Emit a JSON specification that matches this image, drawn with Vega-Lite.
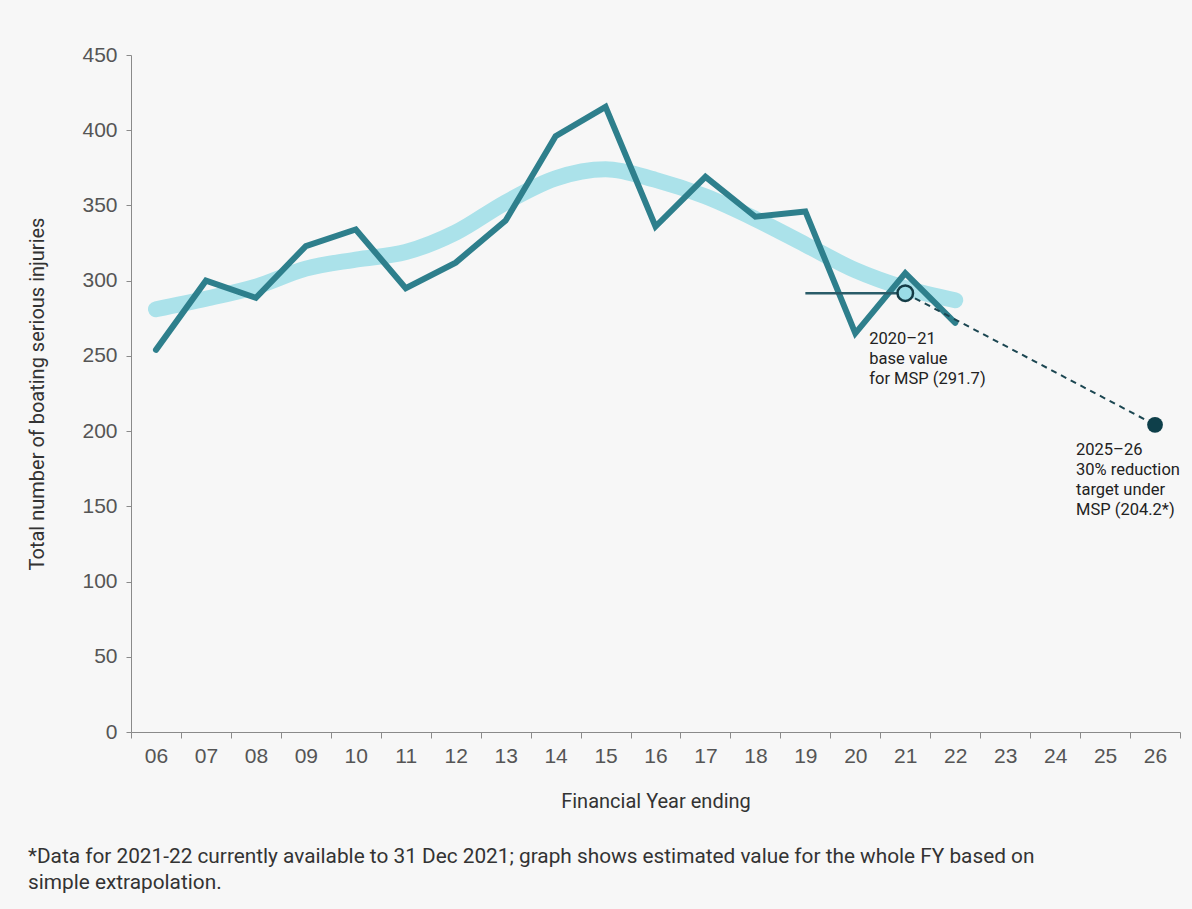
{
  "$schema": "https://vega.github.io/schema/vega-lite/v6.json",
  "autosize": "none",
  "width": 1049,
  "height": 677,
  "padding": {"left": 131, "top": 55, "right": 12, "bottom": 177},
  "background": "#f7f7f7",
  "config": {
    "view": {"stroke": null},
    "font": "Roboto"
  },
  "title": {
    "text": ["*Data for 2021-22 currently available to 31 Dec 2021; graph shows estimated  value for the whole FY based on", "simple extrapolation."],
    "orient": "bottom",
    "anchor": "start",
    "frame": "bounds",
    "font": "Roboto",
    "fontSize": 20.8,
    "fontWeight": "normal",
    "color": "#333333",
    "lineHeight": 26,
    "offset": 36
  },
  "encoding": {
    "x": {
      "field": "fy",
      "type": "ordinal",
      "scale": {"type": "band", "domain": ["06","07","08","09","10","11","12","13","14","15","16","17","18","19","20","21","22","23","24","25","26"], "paddingInner": 0, "paddingOuter": 0},
      "axis": {
        "title": "Financial Year ending",
        "labelAngle": 0,
        "tickBand": "extent",
        "tickSize": 6,
        "tickColor": "#8a8a8a",
        "domainColor": "#8a8a8a",
        "labelFont": "Liberation Sans",
        "labelFontSize": 21,
        "labelColor": "#555555",
        "labelPadding": 7,
        "titleFont": "Roboto",
        "titleFontSize": 20,
        "titleFontWeight": "normal",
        "titleColor": "#333333",
        "titlePadding": 25
      }
    },
    "y": {
      "field": "value",
      "type": "quantitative",
      "scale": {"domain": [0, 450], "nice": false},
      "axis": {
        "title": "Total number of boating serious injuries",
        "values": [0,50,100,150,200,250,300,350,400,450],
        "grid": false,
        "tickSize": 5,
        "tickColor": "#8a8a8a",
        "domainColor": "#8a8a8a",
        "labelFont": "Liberation Sans",
        "labelFontSize": 21,
        "labelColor": "#555555",
        "labelPadding": 9,
        "titleFont": "Roboto",
        "titleFontSize": 20,
        "titleFontWeight": "normal",
        "titleColor": "#333333",
        "titlePadding": 34
      }
    }
  },
  "layer": [
    {
      "data": {"values": [
        {"fy": "06", "value": 281},
        {"fy": "07", "value": 288},
        {"fy": "08", "value": 296},
        {"fy": "09", "value": 308},
        {"fy": "10", "value": 314},
        {"fy": "11", "value": 319},
        {"fy": "12", "value": 332},
        {"fy": "13", "value": 352},
        {"fy": "14", "value": 368},
        {"fy": "15", "value": 374},
        {"fy": "16", "value": 367},
        {"fy": "17", "value": 356},
        {"fy": "18", "value": 341},
        {"fy": "19", "value": 324},
        {"fy": "20", "value": 307},
        {"fy": "21", "value": 295},
        {"fy": "22", "value": 287}
      ]},
      "mark": {"type": "line", "interpolate": "monotone", "color": "#abe2ea", "strokeWidth": 16, "strokeCap": "round"}
    },
    {
      "data": {"values": [
        {"fy": "06", "value": 254},
        {"fy": "07", "value": 300},
        {"fy": "08", "value": 288.6},
        {"fy": "09", "value": 323},
        {"fy": "10", "value": 334},
        {"fy": "11", "value": 295},
        {"fy": "12", "value": 312},
        {"fy": "13", "value": 340},
        {"fy": "14", "value": 396},
        {"fy": "15", "value": 415.5},
        {"fy": "16", "value": 336},
        {"fy": "17", "value": 369},
        {"fy": "18", "value": 342.5},
        {"fy": "19", "value": 346},
        {"fy": "20", "value": 265},
        {"fy": "21", "value": 305},
        {"fy": "22", "value": 272}
      ]},
      "mark": {"type": "line", "color": "#2e7f8c", "strokeWidth": 6, "strokeCap": "round", "strokeJoin": "miter"}
    },
    {
      "data": {"values": [
        {"fy": "19", "value": 291.7},
        {"fy": "21", "value": 291.7}
      ]},
      "mark": {"type": "line", "color": "#2a5c69", "strokeWidth": 2.5}
    },
    {
      "data": {"values": [
        {"fy": "21", "value": 291.7},
        {"fy": "26", "value": 204.2}
      ]},
      "mark": {"type": "line", "color": "#1b4651", "strokeWidth": 2, "strokeDash": [6, 5]}
    },
    {
      "data": {"values": [
        {"fy": "21", "value": 291.7}
      ]},
      "mark": {"type": "point", "filled": false, "fill": "#9adce6", "fillOpacity": 1, "stroke": "#143c46", "strokeWidth": 2.5, "opacity": 1, "size": 240}
    },
    {
      "data": {"values": [
        {"fy": "26", "value": 204.2}
      ]},
      "mark": {"type": "point", "filled": true, "color": "#0e3f4a", "opacity": 1, "size": 250}
    },
    {
      "data": {"values": [
        {"fy": "21", "value": 266.5, "label": "2020–21\nbase value\nfor MSP (291.7)"}
      ]},
      "mark": {"type": "text", "align": "left", "baseline": "top", "dx": -36, "lineBreak": "\n", "fontSize": 16.5, "lineHeight": 20, "color": "#222222", "font": "Roboto"},
      "encoding": {
        "text": {"field": "label", "type": "nominal"}
      }
    },
    {
      "data": {"values": [
        {"fy": "26", "value": 192.5, "label": "2025–26\n30% reduction\ntarget under\nMSP (204.2*)"}
      ]},
      "mark": {"type": "text", "align": "left", "baseline": "top", "dx": -79, "lineBreak": "\n", "fontSize": 16.5, "lineHeight": 20, "color": "#222222", "font": "Roboto"},
      "encoding": {
        "text": {"field": "label", "type": "nominal"}
      }
    }
  ]
}
